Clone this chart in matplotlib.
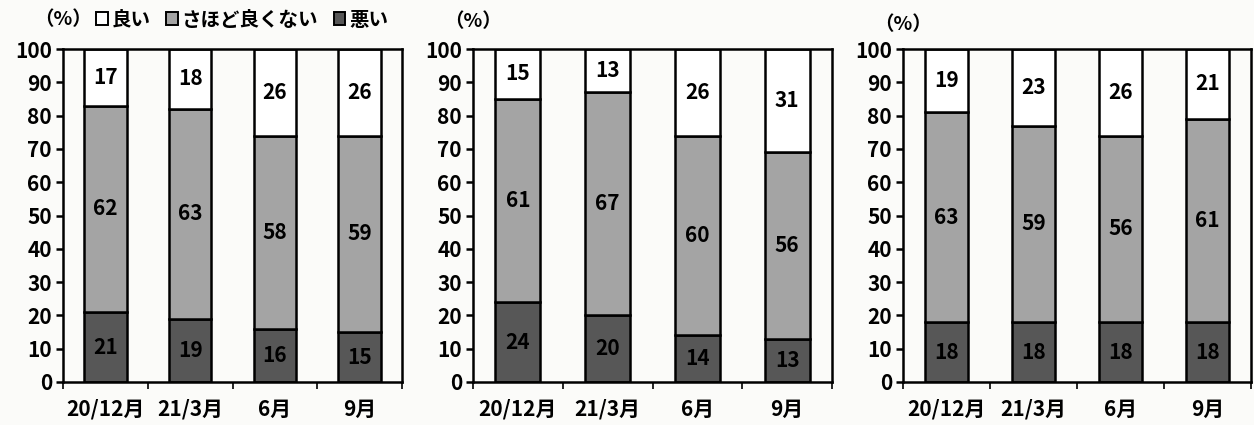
import matplotlib.pyplot as plt
from matplotlib.patches import Patch
import numpy as np

plt.rcParams['font.family'] = ['Noto Sans CJK JP', 'DejaVu Sans']
plt.rcParams['font.weight'] = 'bold'

categories = ['20/12月', '21/3月', '6月', '9月']
series_names = ['良い', 'さほど良くない', '悪い']

# panel values: bad (bottom), middling, good (top)
bad = [[21, 19, 16, 15], [24, 20, 14, 13], [18, 18, 18, 18]]
mid = [[62, 63, 58, 59], [61, 67, 60, 56], [63, 59, 56, 61]]
good = [[17, 18, 26, 26], [15, 13, 26, 31], [19, 23, 26, 21]]

c_bad = '#575757'
c_mid = '#a4a4a4'
c_good = '#ffffff'
bg = '#fbfbf9'

W, H = 1254, 425
fig = plt.figure(figsize=(W / 100, H / 100), dpi=100, facecolor=bg)

# axes boxes in pixels: left, right
boxes = [(63, 402), (473, 832), (903, 1251)]
label_y = [20, 22, 25]
top, bottom = 49, 382

for k, (l, r) in enumerate(boxes):
    ax = fig.add_axes([l / W, 1 - bottom / H, (r - l) / W, (bottom - top) / H])
    ax.set_facecolor(bg)
    x = np.arange(len(categories))
    b = np.array(bad[k])
    m = np.array(mid[k])
    g = np.array(good[k])
    kw = dict(width=0.5, edgecolor='black', linewidth=1.8)
    ax.bar(x, b, color=c_bad, **kw)
    ax.bar(x, m, bottom=b, color=c_mid, **kw)
    ax.bar(x, g, bottom=b + m, color=c_good, **kw)
    for i in range(len(x)):
        ax.text(x[i], b[i] / 2, str(b[i]), ha='center', va='center', fontsize=15)
        ax.text(x[i], b[i] + m[i] / 2, str(m[i]), ha='center', va='center', fontsize=15)
        ax.text(x[i], b[i] + m[i] + g[i] / 2, str(g[i]), ha='center', va='center', fontsize=15)
    ax.set_ylim(0, 100)
    ax.set_xlim(-0.5, len(x) - 0.5)
    ax.set_yticks(range(0, 101, 10))
    ax.set_xticks(np.arange(-0.5, len(x), 1.0))
    ax.set_xticklabels([])
    ax.set_xticks(x, minor=True)
    ax.set_xticklabels(categories, minor=True, fontsize=15)
    ax.tick_params(axis='x', which='minor', length=0, pad=12)
    ax.tick_params(axis='x', which='major', length=5, width=1.2, direction='out')
    ax.tick_params(axis='y', length=5, width=1.8, labelsize=15, pad=3)
    for s in ax.spines.values():
        s.set_linewidth(1.8)
    fig.text(l / W, 1 - label_y[k] / H, '（%）', fontsize=14, ha='center', va='center')

handles = [Patch(facecolor=c_good, edgecolor='black', linewidth=1.4),
           Patch(facecolor=c_mid, edgecolor='black', linewidth=1.4),
           Patch(facecolor=c_bad, edgecolor='black', linewidth=1.4)]
fig.legend(handles, series_names, loc='center left', bbox_to_anchor=(96 / W, 1 - 20 / H),
           ncol=3, frameon=False, fontsize=14, handlelength=0.6, handleheight=0.6,
           handletextpad=0.2, columnspacing=0.8, borderaxespad=0, borderpad=0)

fig.savefig('out.png', dpi=100, facecolor=bg)
